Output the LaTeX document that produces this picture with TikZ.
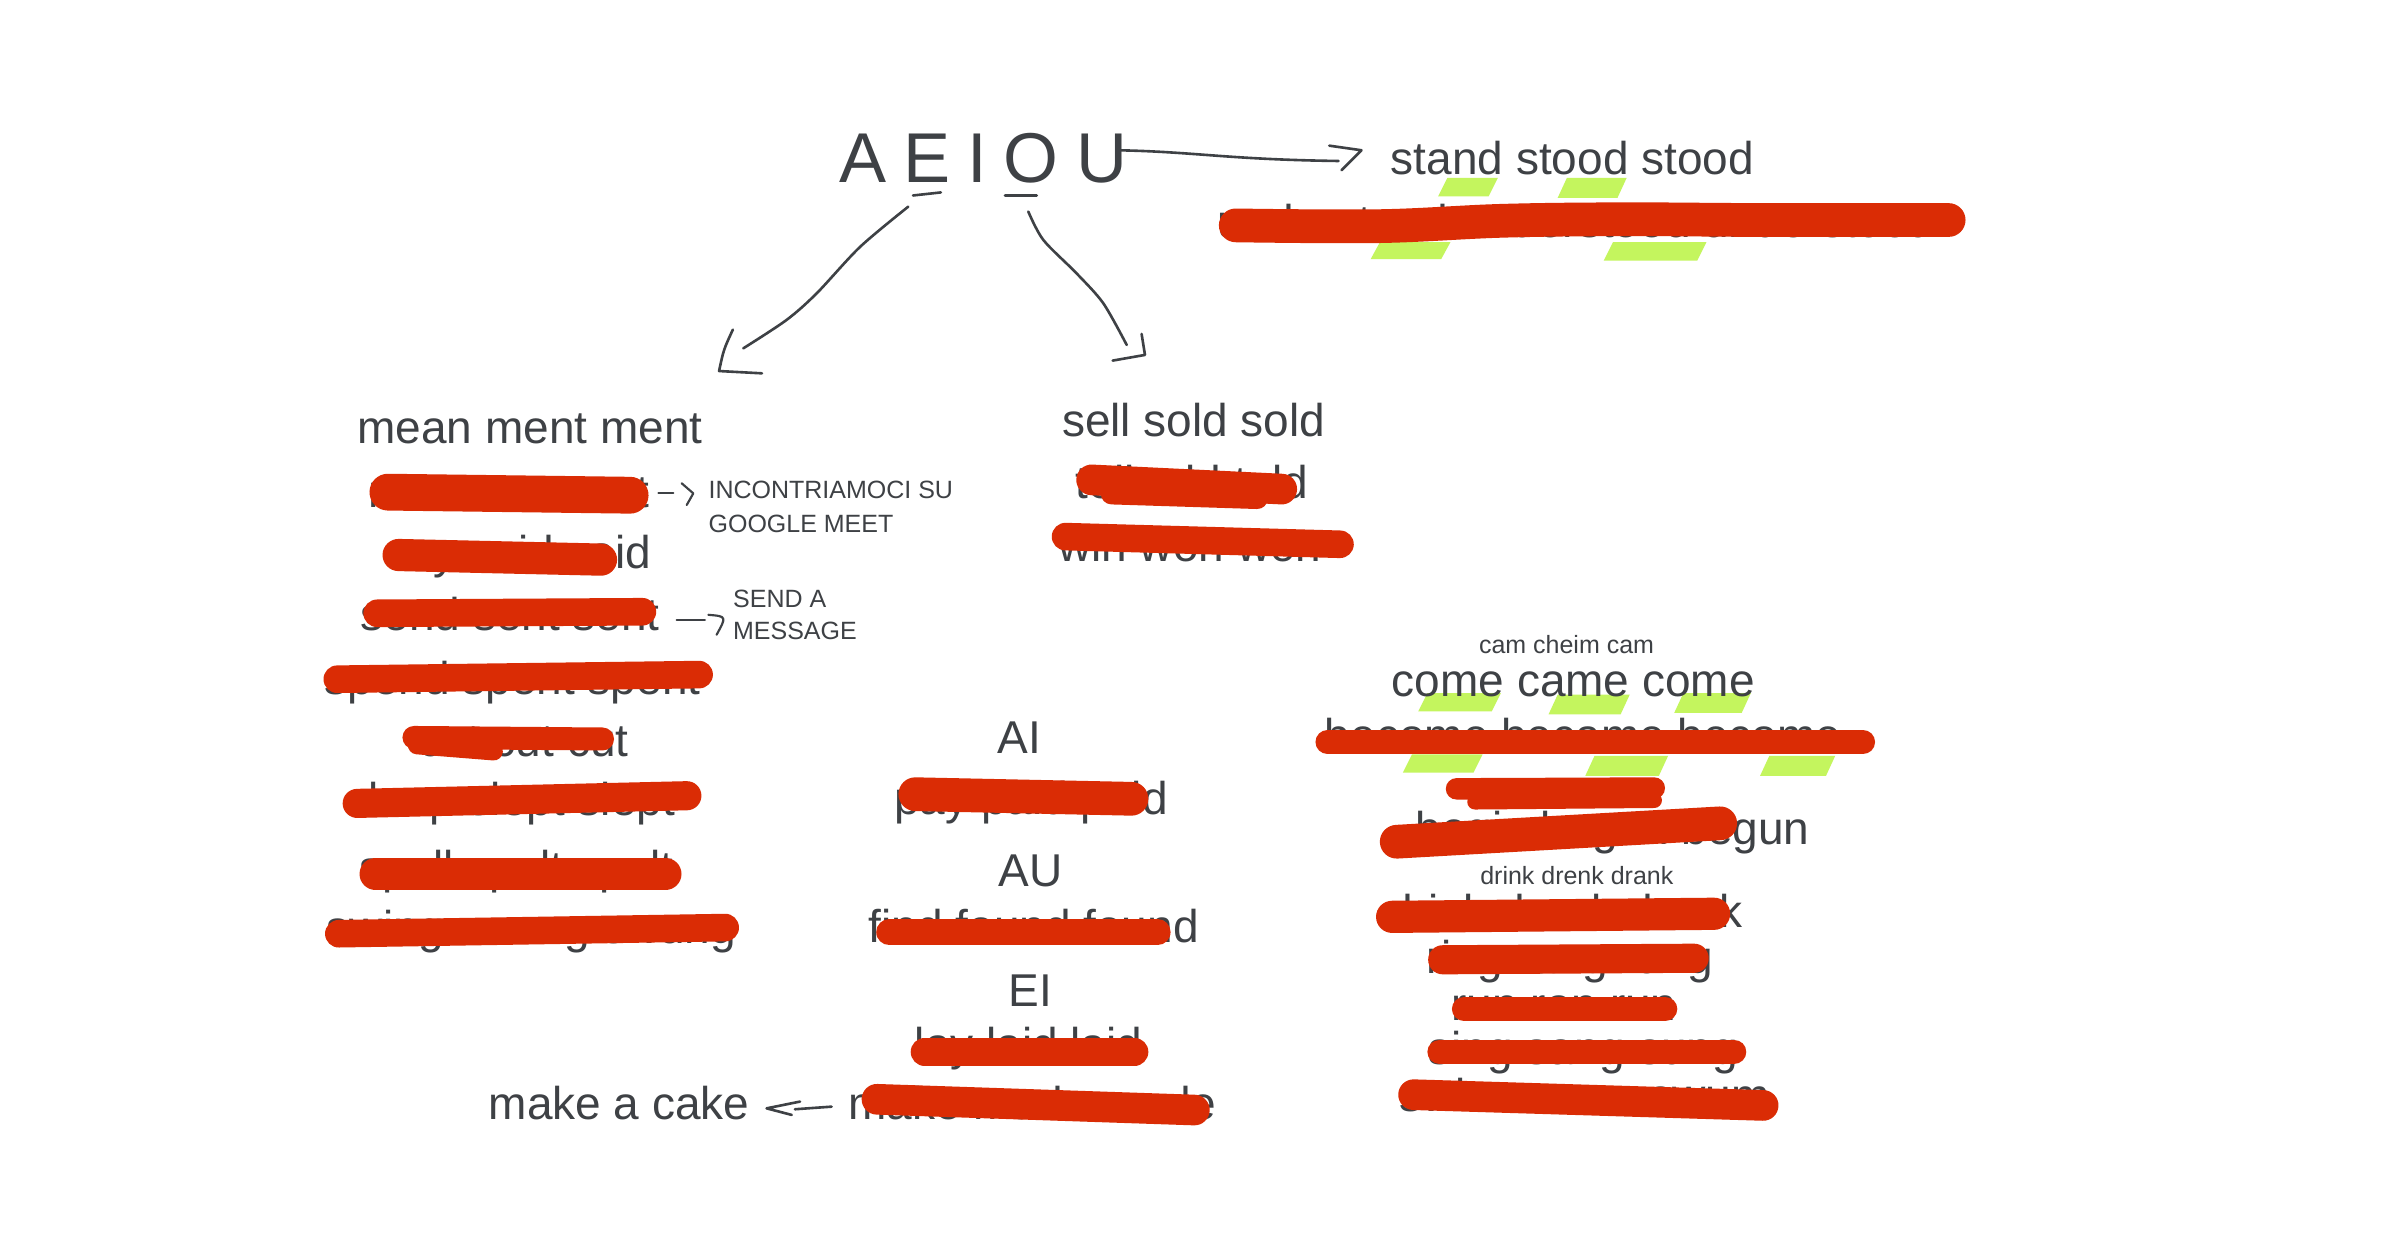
\documentclass[tikz,border=0pt]{standalone}
\usepackage{fontspec}
\setmainfont{Liberation Sans}
\definecolor{ink}{HTML}{3E4145}
\definecolor{redact}{HTML}{DA2C05}
\definecolor{hl}{HTML}{C4F55E}
\newcommand\hlbar[4]{\fill[hl] (#1,#4) -- ({#2-6},#4) -- (#2,#3) -- ({#1+6},#3) -- cycle;}
\begin{document}
\begin{tikzpicture}[x=1pt,y=-1pt,
  big/.style={font=\fontsize{30}{34}\selectfont, text=ink, inner sep=0pt, anchor=base west},
  small/.style={font=\fontsize{16.3}{19}\selectfont, text=ink, inner sep=0pt, anchor=base west},
  vowel/.style={font=\fontsize{46}{50}\selectfont, text=ink, inner sep=0pt, anchor=base},
  blot/.style={draw=redact, line cap=round, line join=round},
  hand/.style={draw=ink, line width=1.7pt, line cap=round, line join=round}]
\fill[white] (0,0) rectangle (1568,809);
\useasboundingbox (0,0) rectangle (1568,809);

% green highlights
\hlbar{938}{977}{116}{128}
\hlbar{1016}{1061}{116}{129}
\hlbar{894}{946}{158}{169}
\hlbar{1046}{1113}{158}{170}
\hlbar{925}{979}{452}{464}
\hlbar{1010}{1063}{453}{466}
\hlbar{1092}{1142}{452}{465}
\hlbar{915}{967}{492}{504}
\hlbar{1034}{1088}{493}{506}
\hlbar{1148}{1197}{493}{506}

% vowels
\node[vowel] (vA) at (563,119) {A};
\node[vowel] (vE) at (604.5,119) {E};
\node[vowel] (vI) at (637.5,119) {I};
\node[vowel] (vO) at (672.5,119) {O};
\node[vowel] (vU) at (719,119) {U};

% top right
\node[big] (stand) at (907,114) {stand stood stood};
\node[big] (under) at (794,155) {understand understood understood};

% left column
\node[big] (mean) at (233,289) {mean ment ment};
\node[big] (meet) at (240,331) {meet met met};
\node[big] (say) at (251,370.5) {say said said};
\node[big] (send) at (235,411) {send sent sent};
\node[big] (spend) at (211.5,453) {spend spent spent};
\node[big] (cut) at (273,493.6) {cut cut cut};
\node[big] (sleep) at (225,532) {sleep slept slept};
\node[big] (spell) at (234,576.5) {spell spelt spelt};
\node[big] (swing) at (213,615.5) {swing swung swung};
\node[small] (inc1) at (462,325) {INCONTRIAMOCI SU};
\node[small] (inc2) at (462,347) {GOOGLE MEET};
\node[small] (snd1) at (478,396) {SEND A};
\node[small] (snd2) at (478,417) {MESSAGE};

% middle column
\node[big] (sell) at (692.5,284.5) {sell sold sold};
\node[big] (tell) at (701.5,325) {tell told told};
\node[big] (win) at (690,366.5) {win won won};
\node[big, anchor=base] (ai) at (665,491.3) {AI};
\node[big] (pay) at (583,531) {pay paid paid};
\node[big, anchor=base] (au) at (672,578) {AU};
\node[big] (find) at (566.5,615) {find found found};
\node[big, anchor=base] (ei) at (672,656.6) {EI};
\node[big] (lay) at (596.5,692) {lay laid laid};
\node[big] (make) at (553,730) {make made made};
\node[big] (cake) at (318.6,730.5) {make a cake};

% right column
\node[small] (cam) at (964.5,426) {cam cheim cam};
\node[big] (come) at (907.6,454.4) {come came come};
\node[big] (become) at (864,490) {become became become};
\node[big] (begin) at (923.2,551) {begin began begun};
\node[small] (drenk) at (965.3,577.2) {drink drenk drank};
\node[big] (drink) at (904.6,605) {drink drank drunk};
\node[big] (ring) at (930.3,634.8) {ring rang rung};
\node[big] (run) at (946.6,665.6) {run ran run};
\node[big] (sing) at (931.5,694) {sing sang sung};
\node[big] (swim) at (912.5,725) {swim swam swum};

% red redaction strokes
\draw[blot, line width=22pt] plot[smooth, tension=0.6] coordinates {(806,147) (900,147.5) (980,144) (1060,143) (1150,143.5) (1271,143.5)};
\draw[blot, line width=24pt] (253,321) -- (411,323);
\draw[blot, line width=21pt] (260,362) -- (392,365);
\draw[blot, line width=18pt] (246,400) -- (419,399);
\draw[blot, line width=18pt] (220,443) -- (456,440);
\draw[blot, line width=15pt] (270,481) -- (393,482);
\draw[blot, line width=12pt] (272,486) -- (322,490);
\draw[blot, line width=19pt] (233,524) -- (448,519);
\draw[blot, line width=21pt] (245,570) -- (434,570);
\draw[blot, line width=18pt] (221,609) -- (473,605);
\draw[blot, line width=20pt] (712,313) -- (836,319);
\draw[blot, line width=14pt] (725,322) -- (820,325);
\draw[blot, line width=18pt] (695,350) -- (874,355);
\draw[blot, line width=22pt] (597,518) -- (738,521);
\draw[blot, line width=17pt] (580,608) -- (755,608);
\draw[blot, line width=18pt] (603,686) -- (740,686);
\draw[blot, line width=20pt] (572,717) -- (779,724);
\draw[blot, line width=16pt] (866,484) -- (1215,484);
\draw[blot, line width=14pt] (950,514.5) -- (1079,514);
\draw[blot, line width=10pt] (962,523) -- (1079,522);
\draw[blot, line width=22pt] (911,549) -- (1122,537);
\draw[blot, line width=21pt] (908,598) -- (1118,596);
\draw[blot, line width=19pt] (941,626) -- (1105,625);
\draw[blot, line width=16pt] (955,658) -- (1086,658);
\draw[blot, line width=16pt] (939,686) -- (1131,686);
\draw[blot, line width=20pt] (922,714) -- (1150,721);

% hand-drawn connectors
\coordinate (uS) at (729,98);
\coordinate (uT) at (873,105);
\draw[hand] (uS) .. controls (780,99) and (800,104) .. (uT);
\draw[hand] (867,95) -- (888,98) -- (875,111);

\draw[hand] (595.5,127.5) -- (613.7,125.5);
\coordinate (eS) at (592.4,134.8);
\coordinate (eT) at (484.8,227.2);
\draw[hand] plot[smooth] coordinates {(eS) (561,161) (532.7,191.3) (513,208.7) (eT)};
\draw[hand] (478,215) .. controls (472,228) .. (469,242) -- (497,243.5);

\draw[hand] (655.5,127.5) -- (676.2,127.5);
\coordinate (oS) at (670.7,138);
\coordinate (oT) at (734.9,225);
\draw[hand] plot[smooth] coordinates {(oS) (680.5,156.5) (702.2,178.3) (719.6,197.8) (oT)};
\draw[hand] (744.6,217.8) -- (746.8,231.5) -- (725.7,235.2);

\coordinate (m1) at (429.4,321.8);
\coordinate (m2) at (439.2,321.8);
\draw[hand, line width=1.4pt] (m1) -- (m2);
\draw[hand, line width=1.4pt] (444.6,315.2) -- (452.2,321.8) -- (447.9,329.4);

\coordinate (s1) at (441.3,404.4);
\coordinate (s2) at (459.8,404.4);
\draw[hand, line width=1.4pt] (s1) -- (s2);
\draw[hand, line width=1.4pt] (462,401) .. controls (474,402) .. (467.4,414);

\coordinate (k1) at (542.4,721.8);
\coordinate (k2) at (518.5,723.5);
\draw[hand] (k1) -- (k2);
\draw[hand] (521.8,718.5) -- (500,722.9) -- (516.4,727.2);
\end{tikzpicture}
\end{document}
